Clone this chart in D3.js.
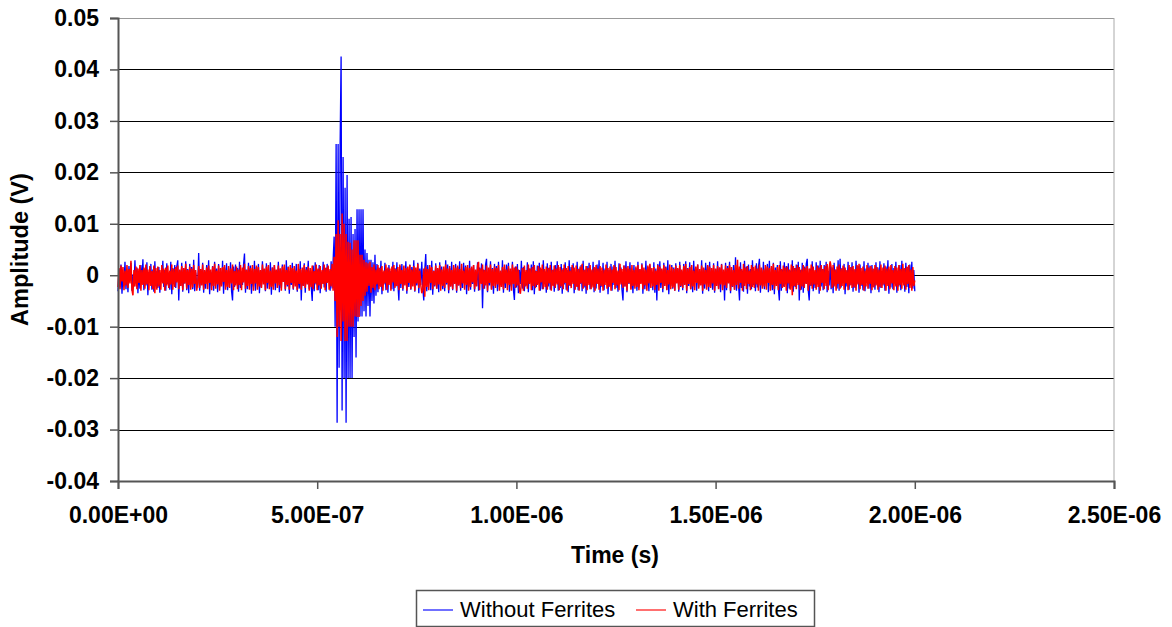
<!DOCTYPE html>
<html>
<head>
<meta charset="utf-8">
<script src="https://cdn.jsdelivr.net/npm/d3@7"></script>
<style>
  body { margin: 0; background: #fff; }
  svg { display: block; font-family: "Liberation Sans", Arial, sans-serif; }
</style>
</head>
<body>
<svg width="1172" height="627"></svg>
<script>
const width = 1172
const height = 627
const margin = {top: 18, right: 58, bottom: 146, left: 118}

// sample spacing of the scope traces (s)
const dt = 2.5e-9

const yTicks = [0.05, 0.04, 0.03, 0.02, 0.01, 0, -0.01, -0.02, -0.03, -0.04]
const yLabels = ["0.05", "0.04", "0.03", "0.02", "0.01", "0", "-0.01", "-0.02", "-0.03", "-0.04"]
const xTicks = [0, 5e-7, 1e-6, 1.5e-6, 2e-6, 2.5e-6]
const xLabels = ["0.00E+00", "5.00E-07", "1.00E-06", "1.50E-06", "2.00E-06", "2.50E-06"]

const seriesNames = ["Without Ferrites", "With Ferrites"]
const seriesColors = ["#0000ff", "#ff0000"]

// amplitudes in mV, one sample every dt
const withoutFerrites = [
  -3.1, 1.2, -2.4, 2.1, -3.6, 0.4, -1.8, 2.6, -2.7, 0.9, -3.3, 1.8, -1.0, 2.4, -3.0, 0.2, -2.2, 2.9, -1.6, 1.5, -3.5, 0.7, -2.6, 2.0, -1.3, 3.1, -2.9, 1.3, -2.0, 2.5, -3.9, 0.6, -1.5, 2.2, -2.8, 1.1, -3.2, 2.7, -1.9, 0.8,
  -2.5, 1.6, -3.4, 0.3, -1.2, 2.8, -2.3, 1.0, -3.0, 2.3, -1.7, 0.5, -2.8, 2.6, -3.7, 1.4, -0.9, 2.0, -2.5, 1.7, 2.9, -4.9, 0.9, -2.1, 2.4, -3.2, 0.1, -1.6, 2.7, -2.9, 1.2, -3.5, 2.2, -1.1, 1.6, -2.7, 3.0, -3.1, 0.5, -2.0,
  -2.2, 4.3, -3.0, 1.1, -1.9, 2.4, -3.4, 0.8, -2.6, 2.0, -1.4, 2.9, -3.7, 0.6, -2.1, 1.8, -3.0, 2.6, -1.2, 1.3, -3.3, 2.2, -2.4, 0.4, -1.8, 2.8, -3.6, 1.5, -2.0, 2.3, -2.9, 0.9, -1.5, 2.5, -3.1, -4.9, 1.7, -2.3, 2.1, -1.6,
  1.4, -3.2, 2.6, -2.5, 0.7, -1.9, 2.0, 4.2, -3.4, 1.1, -2.7, 2.4, -1.3, 1.9, -3.6, 0.5, -2.2, 2.8, -3.0, 1.6, -1.7, 2.2, -3.5, 0.9, -2.4, 2.7, -1.0, 1.2, -3.1, 2.3, -2.6, 0.3, -1.8, 2.5, -3.8, 1.5, -2.1, 2.0, -2.9, 1.0,
  -1.5, 2.6, -3.3, 1.3, -2.5, 2.1, -1.2, 0.6, -3.0, 2.9, -2.2, 1.7, -3.6, 0.8, -1.9, 2.4, -2.8, 1.2, -1.4, 2.2, -3.2, 0.4, -2.6, 2.7, -4.9, 1.0, -2.0, 2.3, -3.4, 1.6, -1.1, 2.8, -2.7, 0.9, -2.3, -5.0, 1.9, -3.1, 2.5, -1.8,
  1.1, -2.9, 2.0, -3.5, 0.7, -1.6, 2.6, -2.4, 1.4, -3.2, 2.2, -1.3, 0.9, -3.0, 2.7, -2.6, 3.0, 7.5, -10, 25.5, -28.7, 25.5, -18, 25, 42.5, -26.3, 23, -20, 17, -28.7, 19.5, -20, 11, -20, 11.3, -20, 8, -12, 9, -16,
  12.8, -9, 12.8, -8, 12.8, -8, 12.8, -7, 5, -8, 4.3, -6, 3, -8, 3, -5, 2.5, -5.5, 4, -4, 2.2, -3.3, 1.5, -2.1, 2.8, -3.7, 0.6, -1.8, 2.4, -2.9, 1.2, -3.4, 2.0, -1.1, 0.8, -2.7, 2.6, -3.1, 1.4, -2.2,
  2.5, -1.7, -4.9, 1.8, -2.5, 2.2, -3.0, 0.5, -1.4, 2.7, -3.6, 1.0, -2.3, 2.1, -2.8, 1.6, -1.2, 2.9, -3.2, 0.7, -2.0, 2.4, -3.5, 1.3, -1.9, 2.6, -2.4, -4.9, 1.1, 4.1, -3.1, 2.0, -1.6, 1.5, -2.9, 2.8, -3.8, 0.9, -2.2, 2.3,
  -2.6, 1.2, -3.3, 2.5, -1.0, 1.7, -2.7, 0.4, -3.1, 2.9, -1.8, 2.1, -3.5, 1.4, -2.2, 2.6, -2.9, 0.8, -1.5, 2.2, -3.4, 1.6, -2.0, 2.7, -3.0, 0.6, -2.5, 2.4, -1.3, 1.9, -3.7, 1.0, -2.4, 2.8, -2.8, 1.3, -1.7, 2.0, -3.2, 0.9,
  -2.1, 2.5, -3.0, 1.5, -1.4, 2.3, -6.4, 1.1, -2.6, 2.0, 3.2, -3.3, 0.7, -2.0, 2.7, -2.7, 1.4, -3.6, 2.2, -1.2, 1.8, -3.1, 2.6, -2.3, 0.5, -1.9, 2.9, -3.4, 1.2, -2.5, 2.1, -1.5, 2.4, -3.2, 0.8, -2.2, 2.6, -2.8, -4.8, 1.7,
  -2.4, 2.2, -3.5, 1.0, -1.7, 2.8, -2.6, 1.6, -3.1, 0.6, -2.0, 2.5, -3.3, 1.3, -1.3, 2.1, -2.9, 2.7, -3.7, 0.9, -2.3, 1.9, -1.6, 2.4, -3.0, 1.2, -2.7, 2.9, -1.1, 0.7, -3.4, 2.3, -2.2, 1.5, -2.8, 2.6, -1.9, 1.1, -3.2, 2.0,
  -1.5, 2.7, -3.0, 0.8, -2.5, 2.2, -3.6, 1.4, -1.8, 2.5, -2.8, 1.0, -3.3, 2.9, -2.1, 1.6, -1.4, 2.3, -3.5, 0.5, -2.2, 2.6, -2.9, 1.3, -1.7, 2.0, -3.1, 2.8, -2.4, 1.1, -3.6, 1.8, -1.2, 2.4, -2.7, 0.9, -2.0, 2.6, -3.3, 1.5,
  -2.6, 2.1, -1.6, 2.9, -3.4, 0.7, -2.3, 2.4, -2.9, 1.3, -1.3, 2.6, -3.7, 1.0, -2.1, 2.2, -3.0, 1.7, -1.9, 2.8, -2.5, 0.6, -3.2, 2.3, -1.4, 1.5, -2.8, -4.9, 1.9, -2.2, 2.7, -3.3, 1.2, -1.7, 2.5, -2.6, 0.8, -3.5, 2.0, -2.0,
  1.4, -3.0, 2.6, -2.4, 1.1, -1.5, 2.3, -3.6, 0.9, -2.7, 2.8, -2.0, 1.6, -3.1, 2.1, -1.2, 0.5, -2.9, 2.5, -3.4, 1.3, -4.9, 2.2, -1.8, 2.7, -2.5, 1.0, -3.3, 2.4, -1.6, 1.7, -2.8, 2.9, -3.7, 0.7, -2.1, 2.0, -2.6, 1.5, -3.0,
  2.3, -1.4, 1.2, -3.2, 2.6, -2.3, 0.8, -2.9, 2.2, -1.7, 2.7, -3.5, 1.4, -2.1, 2.5, -2.7, 1.0, -3.3, 2.8, -1.3, 1.6, -3.0, 2.1, -2.4, 0.6, -1.9, 2.9, -3.6, 1.3, -2.6, 2.4, -1.5, 1.9, -3.1, 2.6, -2.2, 0.9, -2.8, 2.3, -3.4,
  1.1, -2.0, 2.7, -2.6, 1.5, -3.3, 2.2, -1.6, 0.7, -4.9, 2.4, -2.9, 1.8, -1.3, 2.6, -3.5, 1.0, -2.3, 2.0, -2.8, 3.5, -3.0, 1.4, -1.8, -4.9, 2.5, -2.5, 0.9, -3.2, 2.8, -1.5, 1.7, -3.6, 2.1, -2.2, 1.2, -2.7, 2.9, -1.9, 0.6,
  -3.1, 2.3, -2.4, 1.6, 3.2, -3.4, 0.8, -2.0, 2.6, -2.7, 1.3, -1.4, 2.2, -3.3, 2.8, -2.1, 0.5, -2.9, 2.4, -3.7, 1.5, -1.7, 2.0, -2.5, -4.9, 2.7, -3.0, 1.1, -2.2, 2.5, -1.2, 1.8, -3.5, 2.3, -2.6, 0.9, -1.9, 2.9, -3.2, 1.4,
  -2.3, 2.1, -1.5, 2.6, -4.9, 1.0, -2.8, 2.4, -3.4, 1.7, -1.6, 2.2, 3.2, -2.9, -4.9, 1.3, -2.1, 2.7, -3.1, 0.7, -2.5, 2.5, -1.8, 1.9, -3.6, 2.8, -2.2, 1.2, -2.9, 2.0, -1.3, 2.6, -3.3, 0.8, -2.0, 2.3, -2.7, 1.5, -3.5, 2.4,
  -1.7, 1.1, -2.6, 2.9, -3.0, 3.2, -2.4, 1.4, -1.4, 2.2, -3.7, 0.9, -2.2, 2.6, -2.8, 1.6, -1.9, 2.5, -3.2, 1.0, -2.5, 2.8, -1.6, 1.8, -3.4, 2.1, -2.1, 0.6, -2.9, 2.7, -3.1, 1.3, -1.5, 2.4, -2.6, 1.9, -3.5, 2.0, -2.3, 1.2,
  -2.8, 2.5, -1.8, 1.5, -3.3, 2.7, -2.5, 0.8, -2.0, 2.3, -3.0, 1.7, -1.3, 2.9, -3.6, 1.1, -2.4, 2.2, -2.7, 1.4, -1.6, 2.6, -3.4, 0.9, -2.2, 2.0, -2.9, 2.8, -1.4, 1.3, -3.2, 2.4, -2.3, 1.6, -3.5, 2.1, -1.9, 2.6, -2.6, 1.0,
  -3.1
]

const withFerrites = [
  -2.3, 1.4, -2.7, 1.9, -1.2, 1.6, -2.9, 0.9, -2.0, 2.0, -2.5, 1.2, -1.6, 2.8, -2.8, -3.9, 1.0, -2.2, 1.7, -2.7, 1.3, -1.5, 2.0, -3.0, 1.0, -1.9, 1.5, -2.6, 2.1, -1.8, 1.1, -2.9, 1.8, -2.1, 0.8, -2.7, 1.9, -3.5, 1.4, -2.8,
  1.7, -2.2, 1.0, -2.8, 2.0, -1.6, 1.3, -3.0, 1.5, -2.0, 1.9, -2.5, 0.9, -1.8, 2.1, -2.8, 1.2, -2.3, 1.6, -1.4, 1.9, -2.7, 1.1, -2.1, 1.8, -2.9, 1.4, -1.6, 2.2, -2.6, 1.0, -1.9, 1.7, -2.8, 1.3, -2.4, 2.0, -1.7, 1.0, -3.0,
  -1.6, 1.8, -2.5, 1.2, -2.0, 2.1, -2.8, 1.0, -1.7, 1.5, -2.7, 1.9, -1.5, 1.1, -2.9, 1.7, -2.1, 2.2, -2.6, 0.9, -1.8, 1.9, -3.0, 1.4, -2.2, 1.6, -1.3, 2.0, -2.8, 1.0, -2.3, 1.8, -2.5, 1.3, -1.6, 2.1, -2.9, 0.8, -2.0, 1.7,
  -2.7, 1.1, -1.9, 2.0, -2.9, 1.5, -1.4, 2.2, -2.6, 1.0, -2.1, 1.8, -2.8, 1.4, -1.7, 2.0, -3.0, 1.2, -1.6, 1.9, -2.8, 1.6, -2.2, 1.0, -2.5, 2.1, -1.8, 1.3, -2.9, 1.7, -1.5, 2.0, -2.7, 0.9, -2.3, 1.5, -2.8, 2.0, -1.6, 1.1,
  -2.5, 1.9, -2.0, 1.3, -3.0, 1.7, -1.3, 2.1, -2.7, 1.0, -1.9, 1.6, -2.8, 2.0, -1.5, 1.4, -2.6, 1.8, -2.2, 0.9, -2.9, 2.2, -1.7, 1.2, -2.8, 1.5, -2.1, 2.0, -2.5, 1.1, -1.8, 1.7, -3.0, 1.4, -2.3, 1.9, -2.7, 0.8, -1.6, 2.1,
  -2.9, 1.3, -2.0, 1.8, -2.6, 1.0, -1.7, 2.1, -2.9, 1.5, -1.5, 1.9, -2.8, 1.2, -2.2, 2.2, -3.0, 3.6, -5, 8, -12, 10.7, -10, 8, -12.8, 12, -9, 10, -12.8, 8, -12.8, 6.5, -10, 6.3, -10, 5, -10, 6.8, -8, 6.8,
  -8.1, 6.8, -8.1, 4, -6, 4, -5, 3, -4, 2.5, -3.2, 2.3, -2.1, 2.6, -3.4, 1.6, -2.5, 2.1, -2.9, 1.1, -1.8, 2.0, -2.7, 1.4, -2.3, 1.8, -3.0, 0.9, -1.6, 2.1, -2.8, 1.5, -1.9, 1.3, -3.0, 1.7, -1.4, 2.0, -2.5, 1.2,
  -2.1, 1.6, -2.9, 2.1, -1.7, 1.0, -2.6, 1.9, -2.0, 1.4, -3.0, 1.7, -1.5, 2.0, -2.7, 1.1, -2.2, 1.8, -3.0, 1.5, -1.6, 2.2, -2.5, 0.9, -1.9, -3.5, -2.8, 1.3, -4.2, 1.7, -2.3, 1.2, -2.9, 2.0, -1.5, 1.6, -2.7, 0.8, -2.0, 1.9,
  -2.6, 1.4, -1.8, 2.0, -3.0, 1.1, -2.1, 1.7, -2.5, 2.1, -1.5, 1.3, -2.9, 1.8, -2.2, 1.0, -2.7, 2.0, -1.7, 1.5, -3.0, 1.9, -2.0, 1.2, -2.5, 2.2, -1.6, 0.9, -2.8, 1.6, -1.9, 2.0, -3.0, 1.4, -2.3, 1.7, -1.4, 2.0, -2.7, 1.1,
  -2.2, 1.8, 2.6, -2.9, 1.3, -1.7, 2.1, -2.6, 1.0, -2.0, 1.9, -3.0, 1.5, -1.5, 2.1, -2.8, 1.2, -2.1, 1.7, -2.5, 1.4, -1.8, 2.0, -3.0, 0.9, -2.3, 1.6, -2.7, 2.1, -1.6, 1.1, -2.9, 1.8, -1.9, 1.3, -3.0, 2.1, -1.7, 1.5, -2.5,
  1.7, -2.0, 1.1, -2.8, -3.6, -1.5, 1.4, -3.0, 1.9, -2.2, 1.0, -2.6, 2.1, -1.7, 1.3, -2.9, 1.6, -2.1, 2.0, -2.5, 0.8, -1.9, 1.8, -3.0, 1.5, -1.4, 2.1, -2.7, 1.2, -2.3, 1.7, -2.8, 1.4, -1.6, 2.0, -3.0, 1.0, -2.1, 1.9, -2.5,
  1.3, -1.8, 2.0, -2.9, 1.6, -2.2, 1.1, -2.7, 2.1, -1.5, 1.4, -3.0, 1.8, -2.0, 0.9, -2.5, 2.0, -1.7, 1.5, -2.8, 1.9, -2.3, 1.2, -3.0, 1.7, -1.6, 2.2, -2.6, 1.0, -2.1, 1.8, -2.9, 1.4, -1.9, 2.0, -2.7, 1.1, -2.4, 1.6, -3.0,
  2.0, -1.7, 1.3, -2.8, 1.8, -2.1, 1.5, -3.0, 1.0, -1.9, 2.1, -2.6, 1.4, -2.3, 1.7, -3.0, 1.1, -1.5, 2.0, -2.7, 1.6, -2.0, 0.9, -2.9, 2.2, -1.8, 1.2, -2.5, 1.9, -2.2, 1.5, -3.0, 1.8, -1.6, 1.3, -2.8, 2.0, -2.1, 1.0, -2.6,
  1.7, -2.3, 2.0, -2.9, 1.2, -1.7, 2.1, -2.7, 1.5, -2.0, 1.1, -3.0, 1.9, -1.6, 2.2, -2.5, 1.4, -2.2, 1.6, -2.8, 0.9, -1.9, 2.0, -3.0, 1.7, -1.5, 1.3, -2.6, 2.0, -2.1, 1.5, -2.9, 1.0, -1.8, 2.1, -2.7, 1.6, -2.4, 1.2, -3.0,
  1.9, -1.6, 1.4, -2.8, 2.0, -2.1, 1.1, -2.5, 1.8, -1.9, 2.2, -3.0, 1.3, -1.7, 1.6, -2.7, 2.0, -2.2, 0.9, -2.9, 1.7, -1.5, 2.1, -2.6, 1.2, -2.0, 1.9, -3.0, 1.5, -1.8, 1.0, -2.8, 2.0, -2.3, 1.7, -2.5, 1.4, -1.6, 2.0, -3.0,
  1.3, -2.1, 1.8, -2.7, 1.5, -1.8, 2.1, -2.9, 1.1, -2.0, 1.9, -2.5, 1.4, -1.6, 2.0, -3.0, 1.6, -2.2, 1.0, -2.8, 2.0, -1.9, 3.0, -2.6, 1.7, -1.5, 1.2, -3.0, 2.2, -2.1, 1.5, -2.7, 1.8, -1.7, 0.9, -2.9, 2.0, -2.3, 1.6, -2.5,
  1.9, -1.8, 1.3, -3.0, 2.1, -2.0, 1.5, -2.6, 1.1, -2.2, 2.0, -2.8, 1.7, -1.5, 1.4, -3.0, 1.8, -1.9, 2.2, -2.7, 1.0, -2.1, 1.6, -2.9, 2.0, -1.7, 1.2, -2.5, 1.9, -2.3, 1.5, -3.0, 1.7, -1.6, 1.1, -2.8, 2.1, -3.9, 1.8, -2.1,
  1.4, -2.7, 2.0, -1.9, 1.6, -2.9, 1.1, -2.2, 2.0, -2.5, 1.5, -1.7, 1.8, -3.0, 1.3, -2.0, 2.1, -2.6, 1.7, -1.8, 1.0, -2.8, 1.9, -2.3, 1.5, -3.0, 2.0, -1.5, 1.2, -2.7, 1.8, -2.1, 2.2, -2.9, 1.4, 2.7, 1.6, -2.5, 2.0, -2.2,
  1.1, -3.0, 1.7, -1.7, 2.1, -2.6, 1.3, -2.1, 1.9, -2.8, 1.5, -1.6, 1.0, -2.9, 2.0, -2.0, 1.6, -2.5, 1.8, -2.3, 1.2, -3.0, 2.0, -1.8, 2.2, -2.7, 1.4, -1.9, 1.7, -3.0, 0.9, -2.2, 2.0, -2.6, 1.5, -1.7, 1.8, -2.9, 1.3, -2.4,
  2.0, -2.0, 1.6, -2.8, 1.1, -2.3, 2.1, -2.5, 1.5, -1.8, 1.9, -3.0, 1.3, -2.1, 1.7, -2.7, 2.0, -1.6, 1.0, -2.9, 1.8, -2.2, 1.5, -3.0, 2.0, -1.9, 1.2, -2.6, 2.2, -2.0, 1.4, -2.8, 1.7, -1.7, 2.0, -2.5, 1.1, -3.0, 1.6, -2.1,
  -1.0
]

const series = [withoutFerrites, withFerrites]

const svg = d3.select("svg")
const plotW = width - margin.left - margin.right
const plotH = height - margin.top - margin.bottom

const x = d3.scaleLinear().domain([0, 2.5e-6]).range([margin.left, margin.left + plotW])
const y = d3.scaleLinear().domain([-0.04, 0.05]).range([margin.top + plotH, margin.top])

const font = "\"Liberation Sans\", Arial, sans-serif"

// horizontal gridlines
svg.append("g")
  .selectAll("line")
  .data(yTicks.filter(d => d > -0.04))
  .join("line")
  .attr("x1", margin.left)
  .attr("x2", margin.left + plotW)
  .attr("y1", d => Math.round(y(d)) + 0.5)
  .attr("y2", d => Math.round(y(d)) + 0.5)
  .attr("stroke", d => d === 0.05 ? "#999" : "#000")
  .attr("stroke-width", 1.2)

// right border
svg.append("line")
  .attr("x1", margin.left + plotW)
  .attr("x2", margin.left + plotW)
  .attr("y1", y(0.05))
  .attr("y2", y(-0.04))
  .attr("stroke", "#aaa")

// traces
const line = d3.line()
  .x((d, i) => x(i * dt))
  .y(d => y(d / 1000))

svg.append("g")
  .selectAll("path")
  .data(series)
  .join("path")
  .attr("d", line)
  .attr("fill", "none")
  .attr("stroke", (d, i) => seriesColors[i])
  .attr("stroke-width", (d, i) => i === 0 ? 1.3 : 1.5)

// y axis
const yAxis = svg.append("g")
  .attr("transform", `translate(${margin.left},0)`)
  .call(d3.axisLeft(y).tickValues(yTicks).tickFormat((d, i) => yLabels[i]).tickSize(8).tickPadding(11))
yAxis.select(".domain").attr("stroke", "#555").attr("stroke-width", 2)
yAxis.selectAll(".tick line").attr("stroke", "#555").attr("stroke-width", 1.5)
yAxis.selectAll("text")
  .attr("font-family", font).attr("font-size", 23).attr("font-weight", "bold").attr("fill", "#000")

// x axis
const xAxis = svg.append("g")
  .attr("transform", `translate(0,${margin.top + plotH})`)
  .call(d3.axisBottom(x).tickValues(xTicks).tickFormat((d, i) => xLabels[i]).tickSize(8).tickPadding(18))
xAxis.select(".domain").attr("stroke", "#555").attr("stroke-width", 2)
xAxis.selectAll(".tick line").attr("stroke", "#555").attr("stroke-width", 1.5)
xAxis.selectAll("text")
  .attr("font-family", font).attr("font-size", 23).attr("font-weight", "bold").attr("fill", "#000")

// axis titles
svg.append("text")
  .attr("x", 615)
  .attr("y", 563)
  .attr("text-anchor", "middle")
  .attr("font-family", font).attr("font-size", 23).attr("font-weight", "bold")
  .text("Time (s)")

svg.append("text")
  .attr("transform", `translate(28,${margin.top + plotH / 2}) rotate(-90)`)
  .attr("text-anchor", "middle")
  .attr("font-family", font).attr("font-size", 23.5).attr("font-weight", "bold")
  .text("Amplitude (V)")

// legend
const legend = svg.append("g").attr("transform", "translate(416,590)")
legend.append("rect")
  .attr("x", 0.5).attr("y", 0.5)
  .attr("width", 398).attr("height", 36)
  .attr("fill", "#fff").attr("stroke", "#555").attr("stroke-width", 1.5)

const legendX = [7, 220]
const item = legend.selectAll("g.item")
  .data(seriesNames)
  .join("g")
  .attr("class", "item")
  .attr("transform", (d, i) => `translate(${legendX[i]},0)`)
item.append("line")
  .attr("x1", 0).attr("x2", 30)
  .attr("y1", 20).attr("y2", 20)
  .attr("stroke", (d, i) => seriesColors[i])
  .attr("stroke-opacity", 0.75)
  .attr("stroke-width", 1.5)
item.append("text")
  .attr("x", 37).attr("y", 27)
  .attr("font-family", font).attr("font-size", 22)
  .attr("fill", "#000")
  .text(d => d)
</script>
</body>
</html>
